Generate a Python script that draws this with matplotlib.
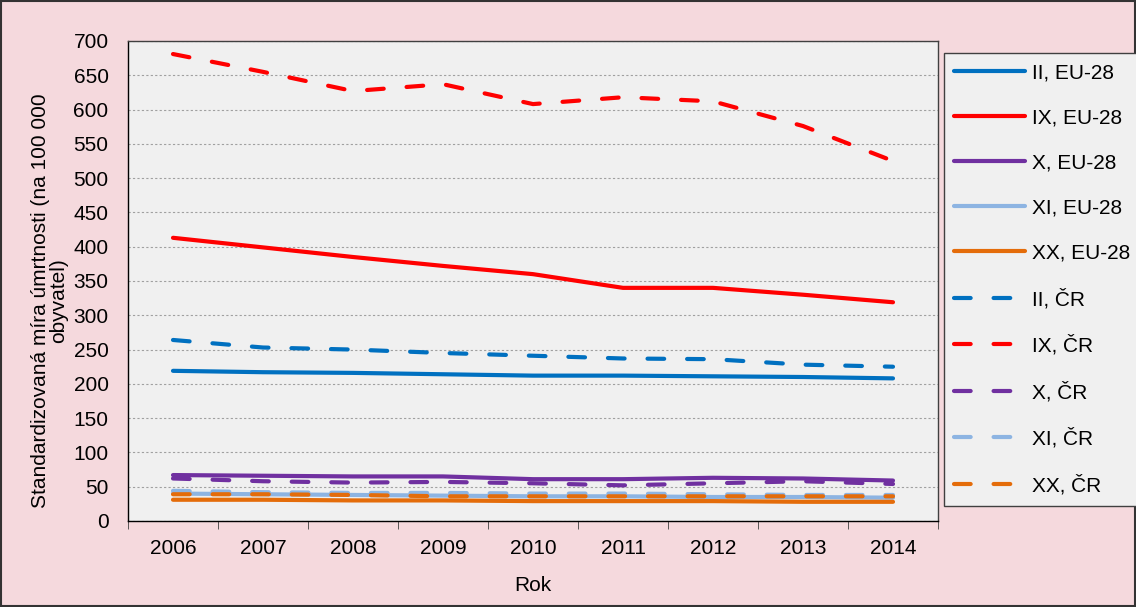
import matplotlib.pyplot as plt
from matplotlib.patches import Rectangle

plt.rcParams['font.family'] = ['Liberation Sans', 'DejaVu Sans']

years = ['2006', '2007', '2008', '2009', '2010', '2011', '2012', '2013', '2014']

# EU-28 series
ii_eu = [219, 217, 216, 214, 212, 212, 211, 210, 208]
ix_eu = [413, 399, 385, 372, 360, 340, 340, 330, 319]
x_eu = [67, 66, 65, 65, 61, 61, 63, 62, 59]
xi_eu = [40, 39, 38, 37, 36, 36, 35, 35, 34]
xx_eu = [31, 31, 30, 30, 29, 29, 29, 28, 28]

# CR series
ii_cr = [264, 253, 250, 245, 241, 237, 236, 228, 225]
ix_cr = [681, 655, 627, 637, 608, 618, 612, 576, 525]
x_cr = [62, 58, 56, 57, 55, 52, 55, 58, 54]
xi_cr = [44, 42, 41, 41, 40, 40, 39, 38, 38]
xx_cr = [39, 39, 38, 36, 36, 36, 36, 36, 36]

series = [
    ('II, EU-28', ii_eu, '#0070C0', '-'),
    ('IX, EU-28', ix_eu, '#FF0000', '-'),
    ('X, EU-28', x_eu, '#7030A0', '-'),
    ('XI, EU-28', xi_eu, '#8DB4E2', '-'),
    ('XX, EU-28', xx_eu, '#E46C0A', '-'),
    ('II, ČR', ii_cr, '#0070C0', '--'),
    ('IX, ČR', ix_cr, '#FF0000', '--'),
    ('X, ČR', x_cr, '#7030A0', '--'),
    ('XI, ČR', xi_cr, '#8DB4E2', '--'),
    ('XX, ČR', xx_cr, '#E46C0A', '--'),
]

fig = plt.figure(figsize=(11.36, 6.07), dpi=100)
fig.patch.set_facecolor('#F5D9DD')
ax = fig.add_axes([128 / 1136, 1 - 521 / 607, 810 / 1136, 480 / 607])
ax.set_facecolor('#F0F0F0')

xs = list(range(len(years)))
for label, vals, color, ls in series:
    if ls == '--':
        ax.plot(xs, vals, color=color, lw=3, label=label, dashes=(4.0, 5.5),
                dash_capstyle='round', solid_joinstyle='round')
    else:
        ax.plot(xs, vals, color=color, lw=3, label=label,
                solid_capstyle='round', solid_joinstyle='round')

ax.set_xlim(-0.5, len(years) - 0.5)
ax.set_ylim(0, 700)
ax.set_yticks(range(0, 701, 50))
ax.tick_params(axis='y', labelsize=15, length=0, pad=14)
ax.set_xticks(xs)
ax.set_xticklabels(years)
ax.set_xticks([i - 0.5 for i in range(len(years) + 1)], minor=True)
ax.tick_params(axis='x', which='major', length=0, labelsize=15, pad=13)
ax.tick_params(axis='x', which='minor', length=6, direction='out', color='#404040')
ax.yaxis.grid(True, color='#A0A0A0', linestyle=(0, (2, 2)), lw=0.8)
ax.set_axisbelow(True)
for s in ax.spines.values():
    s.set_color('#404040')
    s.set_linewidth(1)
ax.spines['left'].set_color('black')
ax.spines['bottom'].set_color('black')

ax.set_xlabel('Rok', fontsize=15, labelpad=13)
ax.set_ylabel('Standardizovaná míra úmrtnosti (na 100 000\nobyvatel)', fontsize=15,
              linespacing=0.95)
ax.yaxis.set_label_coords(-0.074, 0.46)

leg = fig.legend(loc='upper left', bbox_to_anchor=(944 / 1136, 1 - 53 / 607),
                 fontsize=15, handlelength=3.4, labelspacing=1.25, frameon=True,
                 fancybox=False, borderaxespad=0, handletextpad=0.3,
                 borderpad=0.5)
leg.get_frame().set_facecolor('#F0F0F0')
leg.get_frame().set_edgecolor('#404040')
leg.get_frame().set_alpha(1)

fig.add_artist(Rectangle((0.001, 0.001), 0.998, 0.997, transform=fig.transFigure,
                         fill=False, edgecolor='#333333', lw=1.5))

fig.savefig('out.png', dpi=100, facecolor=fig.get_facecolor())
